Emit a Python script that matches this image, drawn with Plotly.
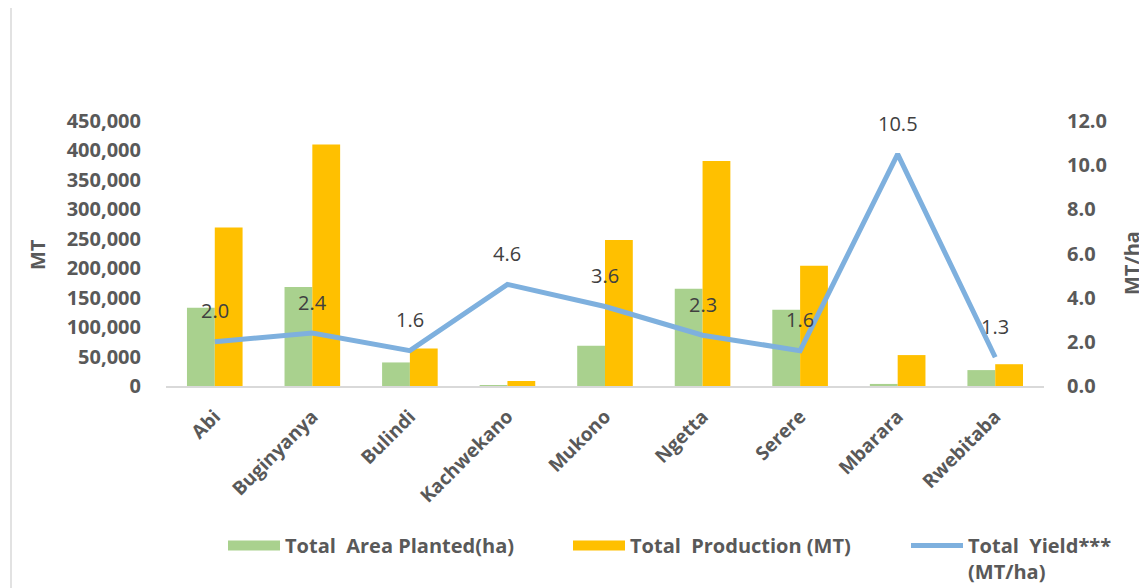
import plotly.graph_objects as go

categories = ["Abi", "Buginyanya", "Bulindi", "Kachwekano", "Mukono", "Ngetta", "Serere", "Mbarara", "Rwebitaba"]
area_planted = [133000, 168000, 40000, 1500, 68500, 165000, 129500, 3500, 27000]
production = [269000, 410000, 63500, 8500, 248000, 382000, 204000, 52500, 37000]
yield_mt_ha = [2.0, 2.4, 1.6, 4.6, 3.6, 2.3, 1.6, 10.5, 1.3]

GREEN, ORANGE, BLUE = "#A9D18E", "#FFC000", "#7EB0DE"
GRAY = "#595959"
FONT = "Open Sans"
TICKFONT = dict(family=FONT, size=20, color=GRAY, weight="bold")
LEGFONT = dict(family=FONT, size=20, color=GRAY, weight="bold")

# page geometry (the page body adds an 8px offset)
L, T, W, H = 158, 113, 878, 265
OFF = 8


def px(X):
    return (X - OFF - L) / W


def py(Y):
    return (T + H + OFF - Y) / H


fig = go.Figure()
fig.add_trace(go.Bar(x=categories, y=area_planted, name="Total  Area Planted(ha)",
                     marker=dict(color=GREEN, line=dict(width=0)), showlegend=False))
fig.add_trace(go.Bar(x=categories, y=production, name="Total  Production (MT)",
                     marker=dict(color=ORANGE, line=dict(width=0)), showlegend=False))
fig.add_trace(go.Scatter(x=categories, y=yield_mt_ha, name="Total  Yield***<br>(MT/ha)",
                         yaxis="y2", mode="lines", line=dict(color=BLUE, width=5), legend="legend3"))
# legend entries with wide swatches like the original
fig.add_trace(go.Scatter(x=[None], y=[None], mode="lines", name="Total  Area Planted(ha)",
                         line=dict(color=GREEN, width=13), legend="legend"))
fig.add_trace(go.Scatter(x=[None], y=[None], mode="lines", name="Total  Production (MT)",
                         line=dict(color=ORANGE, width=13), legend="legend2"))

for c, v in zip(categories, yield_mt_ha):
    fig.add_annotation(x=c, y=v, xref="x", yref="y2", text=f"{v:.1f}", showarrow=False,
                       xanchor="center", yanchor="middle",
                       yshift=31, font=dict(family=FONT, size=20, color="#404040"))
fig.add_annotation(x=px(37), y=py(255), xref="paper", yref="paper", text="MT",
                   xanchor="center", yanchor="middle",
                   showarrow=False, textangle=-90, font=TICKFONT)
fig.add_annotation(x=px(1131), y=py(263), xref="paper", yref="paper", text="MT/ha",
                   xanchor="center", yanchor="middle",
                   showarrow=False, textangle=-90, font=TICKFONT)
fig.add_shape(type="line", xref="paper", yref="paper", x0=px(11), x1=px(11),
              y0=py(600), y1=py(0), line=dict(color="#D9D9D9", width=1.5))

leg_common = dict(orientation="h", yanchor="top", font=LEGFONT, itemwidth=52,
                  valign="top", bgcolor="rgba(0,0,0,0)", borderwidth=0)
fig.update_layout(
    width=1139, height=580,
    margin=dict(l=L, r=1139 - L - W, t=T, b=580 - T - H, autoexpand=False),
    paper_bgcolor="white", plot_bgcolor="white",
    barmode="group", bargap=0.43, bargroupgap=0,
    xaxis=dict(showline=True, linecolor="#D9D9D9", linewidth=2, tickangle=-45,
               tickfont=dict(family=FONT, size=19, color=GRAY, weight="bold"),
               ticks="", showgrid=False, ticklabelstandoff=10),
    yaxis=dict(range=[0, 450000], dtick=50000, tickformat=",d", showgrid=False, zeroline=False,
               tickfont=TICKFONT, ticklabelstandoff=24),
    yaxis2=dict(range=[0, 12], dtick=2, tickformat=".1f", overlaying="y", side="right",
                showgrid=False, zeroline=False, tickfont=TICKFONT, ticklabelstandoff=22),
    legend=dict(x=px(223), y=py(526), **leg_common),
    legend2=dict(x=px(568), y=py(526), **leg_common),
    legend3=dict(x=px(906), y=py(526), **leg_common),
    showlegend=True,
)

fig.write_html("out.html")
